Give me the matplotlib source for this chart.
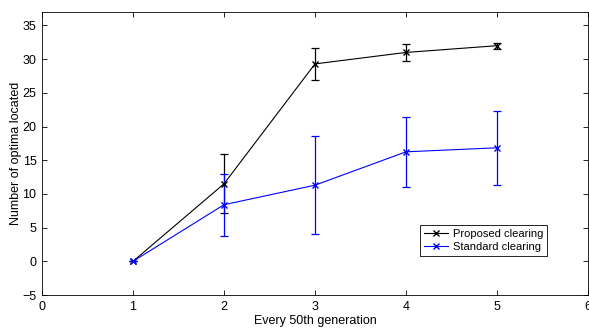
import matplotlib
matplotlib.use("Agg")
import matplotlib.pyplot as plt

plt.rcParams['font.family'] = ['Liberation Sans', 'DejaVu Sans']

# every 50th generation
generations = [1, 2, 3, 4, 5]

proposed_mean = [0, 11.5, 29.3, 31.0, 32.0]
proposed_err = [0, 4.4, 2.35, 1.25, 0.45]

standard_mean = [0, 8.4, 11.3, 16.25, 16.85]
standard_err = [0, 4.6, 7.3, 5.2, 5.45]

fig = plt.figure(figsize=(5.89, 3.29), dpi=100)
ax = fig.add_axes([0.0713, 0.1033, 0.927, 0.8602])

p = ax.errorbar(generations, proposed_mean, yerr=proposed_err, color='black',
                marker='x', markersize=5, linewidth=0.8, elinewidth=0.9,
                capsize=3, capthick=0.9)
s = ax.errorbar(generations, standard_mean, yerr=standard_err, color='blue',
                marker='x', markersize=5, linewidth=0.8, elinewidth=0.9,
                capsize=3, capthick=0.9)

ax.set_xlim(0, 6)
ax.set_ylim(-5, 37)
ax.set_xticks([0, 1, 2, 3, 4, 5, 6])
ax.set_yticks([-5, 0, 5, 10, 15, 20, 25, 30, 35])
ax.tick_params(direction='in', labelsize=9, length=3.5, width=0.6,
               top=True, right=True, pad=4)
for sp in ax.spines.values():
    sp.set_linewidth(0.6)

ax.set_xlabel('Every 50th generation', fontsize=9, labelpad=2)
ax.set_ylabel('Number of optima located', fontsize=9, labelpad=0)

# legend shows plain line + marker like the original
leg = ax.legend([p.lines[0], s.lines[0]], ['Proposed clearing', 'Standard clearing'],
                loc='lower right', bbox_to_anchor=(0.925, 0.138), fontsize=8,
                fancybox=False, edgecolor='black', framealpha=1,
                handlelength=2.2, handletextpad=0.4, borderpad=0.35,
                labelspacing=0.3, borderaxespad=0)
leg.get_frame().set_linewidth(0.6)

fig.savefig('out.png', dpi=100)
